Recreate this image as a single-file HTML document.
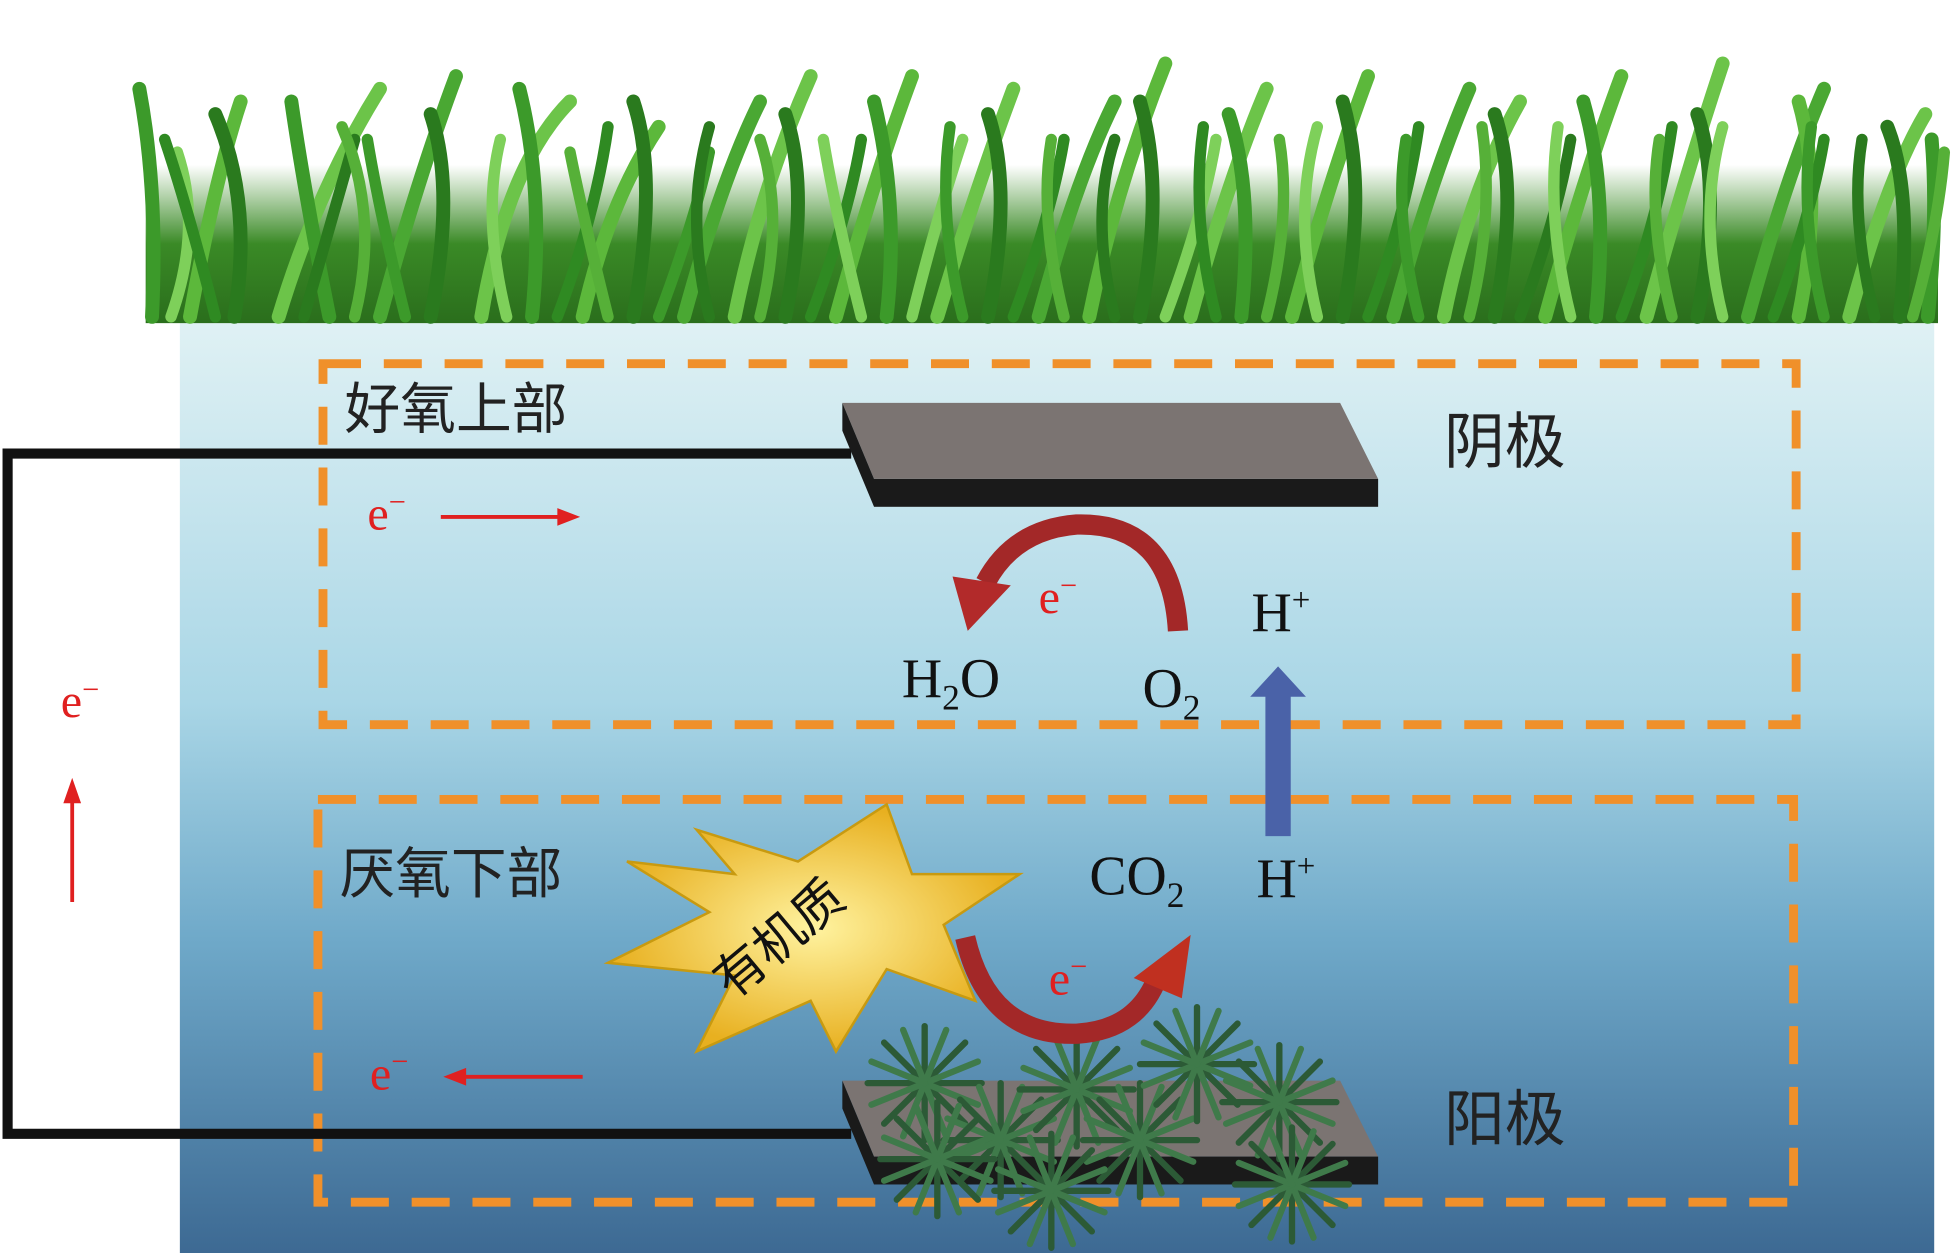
<!DOCTYPE html>
<html><head><meta charset="utf-8">
<style>
html,body{margin:0;padding:0;background:#fff;}
svg{display:block;}
text{font-family:"Liberation Serif","Noto Serif CJK SC",serif;}
.cn{font-family:"Liberation Sans","Noto Sans CJK SC",sans-serif;}
</style></head>
<body>
<svg width="1957" height="1253" viewBox="0 0 1545 989" xmlns="http://www.w3.org/2000/svg">
<defs>
<linearGradient id="w" x1="0" y1="0" x2="0" y2="1">
<stop offset="0" stop-color="#dff1f4"/>
<stop offset="0.4" stop-color="#a9d6e6"/>
<stop offset="0.65" stop-color="#6fa9c9"/>
<stop offset="1" stop-color="#3a6690"/>
</linearGradient>
<linearGradient id="gb" x1="0" y1="0" x2="0" y2="1">
<stop offset="0" stop-color="#3f8f2a" stop-opacity="0"/>
<stop offset="0.5" stop-color="#3a8a26"/>
<stop offset="1" stop-color="#2a6e1c"/>
</linearGradient>
<radialGradient id="star" cx="0.5" cy="0.5" r="0.5">
<stop offset="0" stop-color="#fff3a0"/>
<stop offset="1" stop-color="#e8b020"/>
</radialGradient>
<g id="tuft" stroke="#2c5a36" stroke-width="5" stroke-linecap="round">
<line x1="0" y1="0" x2="0" y2="-45"/><line x1="0" y1="0" x2="32" y2="-32"/><line x1="0" y1="0" x2="45" y2="0"/>
<line x1="0" y1="0" x2="32" y2="32"/><line x1="0" y1="0" x2="0" y2="45"/><line x1="0" y1="0" x2="-32" y2="32"/>
<line x1="0" y1="0" x2="-45" y2="0"/><line x1="0" y1="0" x2="-32" y2="-32"/>
<line x1="0" y1="0" x2="17" y2="-42" stroke="#3f7a4a"/><line x1="0" y1="0" x2="42" y2="-17" stroke="#3f7a4a"/>
<line x1="0" y1="0" x2="42" y2="17" stroke="#3f7a4a"/><line x1="0" y1="0" x2="17" y2="42" stroke="#3f7a4a"/>
<line x1="0" y1="0" x2="-17" y2="42" stroke="#3f7a4a"/><line x1="0" y1="0" x2="-42" y2="17" stroke="#3f7a4a"/>
<line x1="0" y1="0" x2="-42" y2="-17" stroke="#3f7a4a"/><line x1="0" y1="0" x2="-17" y2="-42" stroke="#3f7a4a"/>
</g>
</defs>
<rect x="142" y="255" width="1385" height="748" fill="url(#w)"/>
<!-- grass -->
<rect x="115" y="130" width="1415" height="125" fill="url(#gb)"/>
<g fill="none" stroke-linecap="round" stroke-width="11">
<path d="M120 250 Q125 150 110 70" stroke="#3c9a2a"/>
<path d="M150 250 Q170 140 190 80" stroke="#5cb83b"/>
<path d="M185 250 Q200 160 170 90" stroke="#2a7a1e"/>
<path d="M220 250 Q250 150 300 70" stroke="#6cc449"/>
<path d="M260 250 Q240 150 230 80" stroke="#3c9a2a"/>
<path d="M300 250 Q330 140 360 60" stroke="#4aa833"/>
<path d="M340 250 Q360 150 340 90" stroke="#2a7a1e"/>
<path d="M380 250 Q400 130 450 80" stroke="#6cc449"/>
<path d="M420 250 Q430 150 410 70" stroke="#3c9a2a"/>
<path d="M460 250 Q480 160 520 100" stroke="#5cb83b"/>
<path d="M500 250 Q520 140 500 80" stroke="#2a7a1e"/>
<path d="M540 250 Q570 140 600 80" stroke="#4aa833"/>
<path d="M580 250 Q600 150 640 60" stroke="#6cc449"/>
<path d="M620 250 Q640 150 620 90" stroke="#2a7a1e"/>
<path d="M660 250 Q690 140 720 60" stroke="#5cb83b"/>
<path d="M700 250 Q710 160 690 80" stroke="#3c9a2a"/>
<path d="M740 250 Q770 150 800 70" stroke="#6cc449"/>
<path d="M780 250 Q800 150 780 90" stroke="#2a7a1e"/>
<path d="M820 250 Q850 140 880 80" stroke="#4aa833"/>
<path d="M860 250 Q880 150 920 50" stroke="#5cb83b"/>
<path d="M900 250 Q920 150 900 80" stroke="#2a7a1e"/>
<path d="M940 250 Q970 140 1000 70" stroke="#6cc449"/>
<path d="M980 250 Q990 150 970 90" stroke="#3c9a2a"/>
<path d="M1020 250 Q1050 140 1080 60" stroke="#5cb83b"/>
<path d="M1060 250 Q1080 150 1060 80" stroke="#2a7a1e"/>
<path d="M1100 250 Q1130 140 1160 70" stroke="#4aa833"/>
<path d="M1140 250 Q1160 150 1200 80" stroke="#6cc449"/>
<path d="M1180 250 Q1200 150 1180 90" stroke="#2a7a1e"/>
<path d="M1220 250 Q1250 140 1280 60" stroke="#5cb83b"/>
<path d="M1260 250 Q1270 150 1250 80" stroke="#3c9a2a"/>
<path d="M1300 250 Q1330 140 1360 50" stroke="#6cc449"/>
<path d="M1340 250 Q1360 150 1340 90" stroke="#2a7a1e"/>
<path d="M1380 250 Q1410 140 1440 70" stroke="#4aa833"/>
<path d="M1420 250 Q1440 150 1420 80" stroke="#5cb83b"/>
<path d="M1460 250 Q1490 140 1520 90" stroke="#6cc449"/>
<path d="M1500 250 Q1510 150 1490 100" stroke="#2a7a1e"/>
<path d="M1522 250 Q1530 170 1525 110" stroke="#3c9a2a"/>
</g>
<g fill="none" stroke-linecap="round" stroke-width="9">
<path d="M135 250 Q160 180 140 120" stroke="#7ed05a"/>
<path d="M170 250 Q150 170 130 110" stroke="#2f8a22"/>
<path d="M240 250 Q260 180 280 110" stroke="#2a7a1e"/>
<path d="M280 250 Q300 170 270 100" stroke="#56b038"/>
<path d="M320 250 Q300 170 290 110" stroke="#3c9a2a"/>
<path d="M400 250 Q380 170 395 110" stroke="#7ed05a"/>
<path d="M440 250 Q470 170 480 100" stroke="#2f8a22"/>
<path d="M480 250 Q460 170 450 120" stroke="#56b038"/>
<path d="M520 250 Q550 170 560 120" stroke="#3c9a2a"/>
<path d="M560 250 Q540 170 560 100" stroke="#2a7a1e"/>
<path d="M600 250 Q620 170 600 110" stroke="#56b038"/>
<path d="M640 250 Q670 170 680 110" stroke="#2f8a22"/>
<path d="M680 250 Q660 170 650 110" stroke="#7ed05a"/>
<path d="M720 250 Q740 170 760 110" stroke="#7ed05a"/>
<path d="M760 250 Q740 170 750 100" stroke="#3c9a2a"/>
<path d="M800 250 Q830 170 840 110" stroke="#2f8a22"/>
<path d="M840 250 Q820 170 830 110" stroke="#56b038"/>
<path d="M880 250 Q860 170 880 110" stroke="#2a7a1e"/>
<path d="M920 250 Q950 170 960 110" stroke="#7ed05a"/>
<path d="M960 250 Q940 170 950 100" stroke="#2f8a22"/>
<path d="M1000 250 Q1020 170 1010 110" stroke="#56b038"/>
<path d="M1040 250 Q1020 170 1040 100" stroke="#7ed05a"/>
<path d="M1080 250 Q1110 170 1120 100" stroke="#2f8a22"/>
<path d="M1120 250 Q1100 170 1110 110" stroke="#3c9a2a"/>
<path d="M1160 250 Q1180 170 1170 100" stroke="#56b038"/>
<path d="M1200 250 Q1230 170 1240 110" stroke="#2a7a1e"/>
<path d="M1240 250 Q1220 170 1230 100" stroke="#7ed05a"/>
<path d="M1280 250 Q1310 170 1320 100" stroke="#2f8a22"/>
<path d="M1320 250 Q1300 170 1310 110" stroke="#56b038"/>
<path d="M1360 250 Q1340 170 1360 100" stroke="#7ed05a"/>
<path d="M1400 250 Q1430 170 1440 110" stroke="#2f8a22"/>
<path d="M1440 250 Q1420 170 1430 100" stroke="#3c9a2a"/>
<path d="M1480 250 Q1460 170 1470 110" stroke="#2a7a1e"/>
<path d="M1510 250 Q1530 180 1535 120" stroke="#56b038"/>
</g>
<!-- dashed boxes -->
<rect x="255" y="287" width="1163" height="285" fill="none" stroke="#f0902a" stroke-width="7" stroke-dasharray="30 18"/>
<rect x="251" y="631" width="1165" height="318" fill="none" stroke="#f0902a" stroke-width="7" stroke-dasharray="30 18"/>
<!-- wire -->
<polyline points="672,358 6,358 6,895 672,895" fill="none" stroke="#111" stroke-width="8"/>
<!-- cathode -->
<polygon points="665,318 1058,318 1088,378 690,378" fill="#7b7472"/>
<polygon points="665,318 690,378 690,400 665,340" fill="#1a1a1a"/>
<rect x="690" y="378" width="398" height="22" fill="#1a1a1a"/>
<!-- anode -->
<polygon points="665,853 1058,853 1088,913 690,913" fill="#7b7472"/>
<polygon points="665,853 690,913 690,935 665,875" fill="#1a1a1a"/>
<rect x="690" y="913" width="398" height="22" fill="#1a1a1a"/>
<!-- bacteria tufts -->
<use href="#tuft" x="730" y="855"/>
<use href="#tuft" x="790" y="900"/>
<use href="#tuft" x="850" y="860"/>
<use href="#tuft" x="900" y="900"/>
<use href="#tuft" x="945" y="840"/>
<use href="#tuft" x="1010" y="870"/>
<use href="#tuft" x="1020" y="935"/>
<use href="#tuft" x="830" y="940"/>
<use href="#tuft" x="740" y="915"/>
<!-- labels -->
<text x="272" y="338" font-size="44" class="cn" fill="#222">好氧上部</text>
<text x="268" y="705" font-size="44" class="cn" fill="#222">厌氧下部</text>
<text x="1140" y="365" font-size="48" class="cn" fill="#222">阴极</text>
<text x="1140" y="900" font-size="48" class="cn" fill="#222">阳极</text>
<!-- e- arrows -->
<text x="290" y="418" font-size="38" fill="#e02020">e<tspan dy="-14" font-size="24">−</tspan></text>
<line x1="348" y1="408" x2="445" y2="408" stroke="#e02020" stroke-width="3"/>
<polygon points="458,408 440,401 440,415" fill="#e02020"/>
<text x="48" y="566" font-size="38" fill="#e02020">e<tspan dy="-14" font-size="24">−</tspan></text>
<line x1="57" y1="712" x2="57" y2="630" stroke="#e02020" stroke-width="3"/>
<polygon points="57,614 50,634 64,634" fill="#e02020"/>
<text x="292" y="860" font-size="38" fill="#e02020">e<tspan dy="-14" font-size="24">−</tspan></text>
<line x1="460" y1="850" x2="365" y2="850" stroke="#e02020" stroke-width="3"/>
<polygon points="350,850 368,843 368,857" fill="#e02020"/>
<!-- upper curved arrow -->
<path d="M930 498 Q925 412 850 414 Q800 418 778 460" fill="none" stroke="#a32828" stroke-width="16"/>
<polygon points="752,455 798,462 764,498" fill="#b22a2a"/>
<text x="820" y="484" font-size="38" fill="#e02020">e<tspan dy="-14" font-size="24">−</tspan></text>
<text x="712" y="550" font-size="44" fill="#111">H<tspan dy="10" font-size="28">2</tspan><tspan dy="-10">O</tspan></text>
<text x="902" y="558" font-size="44" fill="#111">O<tspan dy="10" font-size="28">2</tspan></text>
<text x="988" y="498" font-size="44" fill="#111">H<tspan dy="-16" font-size="26">+</tspan></text>
<!-- blue arrow -->
<rect x="999" y="548" width="20" height="112" fill="#4a62a8"/>
<polygon points="987,550 1009,526 1031,550" fill="#4a62a8"/>
<text x="992" y="708" font-size="44" fill="#111">H<tspan dy="-16" font-size="26">+</tspan></text>
<text x="860" y="706" font-size="44" fill="#111">CO<tspan dy="10" font-size="28">2</tspan></text>
<!-- lower curved arrow -->
<path d="M762 740 Q780 818 850 816 Q900 813 915 768" fill="none" stroke="#a32828" stroke-width="16"/>
<polygon points="895,772 940,738 933,788" fill="#c03020"/>
<text x="828" y="785" font-size="38" fill="#e02020">e<tspan dy="-14" font-size="24">−</tspan></text>
<!-- star -->
<polygon points="700,635 720,690 805,690 745,730 770,790 700,765 660,830 640,790 550,830 580,770 480,760 560,720 495,680 580,690 550,655 630,680" fill="url(#star)" stroke="#c89a10" stroke-width="2"/>
<text x="0" y="0" font-size="40" class="cn" fill="#111" transform="translate(578,790) rotate(-40)">有机质</text>
</svg>
</body></html>
